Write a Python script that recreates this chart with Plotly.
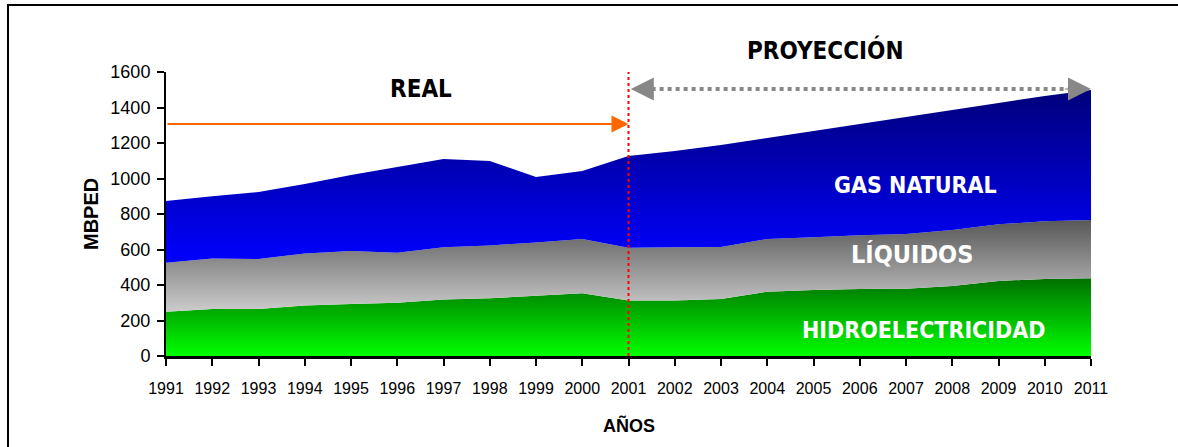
import plotly.graph_objects as go

years = list(range(1991, 2012))
year_labels = [str(y) for y in years]

# component values (MBPED)
hidroelectricidad = [250, 265, 265, 285, 293, 300, 319, 325, 340, 353, 312,
                     312, 321, 362, 372, 377, 379, 394, 423, 434, 438]
liquidos = [276, 285, 281, 293, 298, 282, 293, 298, 300, 306, 298,
            300, 293, 297, 297, 303, 308, 316, 319, 325, 328]
gas_natural = [347, 350, 378, 391, 429, 483, 498, 476, 368, 383, 517,
               543, 575, 569, 599, 627, 659, 676, 683, 706, 733]

y_ticks = [0, 200, 400, 600, 800, 1000, 1200, 1400, 1600]

# stacked levels
lvl1 = hidroelectricidad
lvl2 = [a + b for a, b in zip(lvl1, liquidos)]
lvl3 = [a + b for a, b in zip(lvl2, gas_natural)]

fig = go.Figure()
fig.add_trace(go.Scatter(
    x=years, y=lvl1, mode="none", fill="tozeroy", name="HIDROELECTRICIDAD",
    fillgradient=dict(type="vertical", start=0, stop=max(lvl1),
                      colorscale=[[0, "#00ff00"], [1, "#007000"]]),
    hoverinfo="x+y"))
fig.add_trace(go.Scatter(
    x=years, y=lvl2, mode="none", fill="tonexty", name="LÍQUIDOS",
    fillgradient=dict(type="vertical", start=min(lvl1), stop=max(lvl2),
                      colorscale=[[0, "#cccccc"], [1, "#585858"]]),
    hoverinfo="x+y"))
fig.add_trace(go.Scatter(
    x=years, y=lvl3, mode="none", fill="tonexty", name="GAS NATURAL",
    fillgradient=dict(type="vertical", start=min(lvl2), stop=max(lvl3),
                      colorscale=[[0, "#0000ff"], [1, "#00007a"]]),
    hoverinfo="x+y"))

cond = "DejaVu Sans Condensed, Liberation Sans Narrow, sans-serif"
reg = "Liberation Sans, Arial, sans-serif"

fig.update_layout(
    width=1178, height=447,
    margin=dict(l=166, r=87, t=72, b=91),
    paper_bgcolor="white", plot_bgcolor="white",
    showlegend=False,
    xaxis=dict(range=[1991, 2011], tickmode="array", tickvals=years,
               ticktext=year_labels, showgrid=False, zeroline=False,
               showline=True, linecolor="black", linewidth=3,
               ticks="outside", ticklen=7, tickwidth=2, tickcolor="black",
               tickfont=dict(family=reg, size=16, color="black"),
               ticklabelstandoff=9),
    yaxis=dict(range=[0, 1600], tickmode="array", tickvals=y_ticks,
               showgrid=False, zeroline=False,
               showline=True, linecolor="black", linewidth=2,
               ticks="outside", ticklen=7, tickwidth=2, tickcolor="black",
               tickfont=dict(family=reg, size=18, color="black"),
               ticklabelstandoff=3),
)

# outer border of the chart
fig.add_shape(type="rect", xref="paper", yref="paper",
              x0=(8 - 166) / 925, x1=(1300 - 166) / 925,
              y0=(356 - 500) / 284, y1=(356 - 5) / 284,
              line=dict(color="black", width=2), layer="below")

# red dotted vertical divider at 2001
fig.add_shape(type="line", xref="x", yref="y", x0=2001, x1=2001, y0=0, y1=1651,
              line=dict(color="#ff0000", width=2, dash="dot"))

# orange REAL arrow
fig.add_annotation(x=2001, y=1307, ax=1991, ay=1307, xref="x", yref="y",
                   axref="x", ayref="y", text="", showarrow=True,
                   arrowhead=2, arrowwidth=2, arrowsize=1.7, arrowcolor="#ff6600")

# gray dotted double arrow (PROYECCIÓN)
fig.add_shape(type="line", xref="x", yref="y", x0=2001.5, x1=2010.5, y0=1504, y1=1504,
              line=dict(color="#888888", width=4, dash="dot"))
fig.add_annotation(x=2001.05, y=1504, ax=2001.6, ay=1504, xref="x", yref="y",
                   axref="x", ayref="y", text="", showarrow=True,
                   arrowhead=2, arrowwidth=1, arrowsize=4.6, arrowcolor="#888888")
fig.add_annotation(x=2011.0, y=1504, ax=2010.4, ay=1504, xref="x", yref="y",
                   axref="x", ayref="y", text="", showarrow=True,
                   arrowhead=2, arrowwidth=1, arrowsize=4.6, arrowcolor="#888888")

# section titles
fig.add_annotation(x=1996.51, y=1504, xref="x", yref="y", text="<b>REAL</b>",
                   showarrow=False, font=dict(family=cond, size=24, color="black"))
fig.add_annotation(x=(825 - 166) / 925, y=(356 - 50) / 284, xref="paper", yref="paper",
                   xanchor="center", yanchor="middle", text="<b>PROYECCIÓN</b>",
                   showarrow=False, font=dict(family=cond, size=24, color="black"))

# band labels
fig.add_annotation(x=2007.2, y=963, xref="x", yref="y", text="<b>GAS NATURAL</b>",
                   showarrow=False, font=dict(family=cond, size=23, color="white"))
fig.add_annotation(x=2007.14, y=572, xref="x", yref="y", text="<b>LÍQUIDOS</b>",
                   showarrow=False, font=dict(family=cond, size=25, color="white"))
fig.add_annotation(x=2007.38, y=146, xref="x", yref="y", text="<b>HIDROELECTRICIDAD</b>",
                   showarrow=False, font=dict(family=cond, size=23, color="white"))

# axis titles
fig.add_annotation(x=(91 - 166) / 925, y=(356 - 214) / 284, xref="paper", yref="paper",
                   xanchor="center", yanchor="middle",
                   text="<b>MBPED</b>", textangle=-90, showarrow=False,
                   font=dict(family=reg, size=20, color="black"))
fig.add_annotation(x=(629 - 166) / 925, y=(356 - 425) / 284, xref="paper", yref="paper",
                   xanchor="center", yanchor="middle",
                   text="<b>AÑOS</b>", showarrow=False,
                   font=dict(family=reg, size=18, color="black"))

fig.write_html("out.html", post_script="document.body.style.margin='0px';",
               config={"displayModeBar": False})
